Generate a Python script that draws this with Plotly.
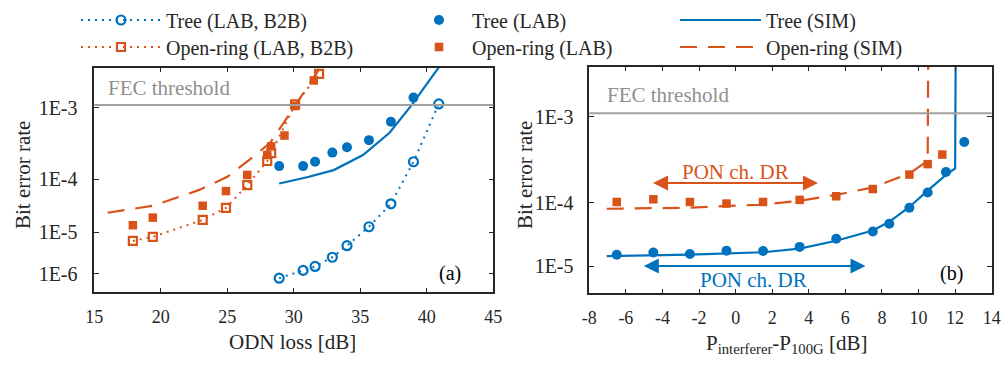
import math
from statistics import NormalDist
import plotly.graph_objects as go

# ---------------- data ----------------
# (a) BER vs ODN loss
odn_tree = [28.9, 30.7, 31.6, 32.9, 34.0, 35.65, 37.3, 39.0, 40.9]
ber_tree_b2b = [7.7e-7, 1.24e-6, 1.57e-6, 2.66e-6, 5.0e-6, 1.3e-5, 3.7e-5, 1.9e-4, 1.11e-3]
ber_tree_lab = [1.63e-4, 1.63e-4, 1.9e-4, 2.6e-4, 3.1e-4, 3.9e-4, 6.8e-4, 1.31e-3, 2.7e-3]
odn_tree_sim = [28.9, 31.0, 33.0, 35.2, 37.2, 38.9, 40.9]
ber_tree_sim = [8.5e-5, 1.08e-4, 1.41e-4, 2.4e-4, 4.9e-4, 1.1e-3, 2.7e-3]

odn_ring_b2b = [17.9, 19.4, 23.15, 24.9, 26.5, 28.0, 28.3, 30.1, 31.9]
ber_ring_b2b = [6.4e-6, 7.9e-6, 1.8e-5, 3.1e-5, 8.0e-5, 1.95e-4, 2.56e-4, 1.1e-3, 2.33e-3]
odn_ring_lab = [17.9, 19.4, 23.15, 24.9, 26.5, 28.0, 28.3, 29.3, 30.1, 31.5]
ber_ring_lab = [1.4e-5, 2.0e-5, 3.4e-5, 6.3e-5, 1.18e-4, 2.4e-4, 3.2e-4, 4.5e-4, 1.05e-3, 2.0e-3]
odn_ring_sim = [16.0, 19.4, 22.9, 25.0, 26.7, 28.2, 29.3, 32.0]
ber_ring_sim = [2.5e-5, 3.4e-5, 6.6e-5, 1.1e-4, 2.06e-4, 3.55e-4, 6.8e-4, 2.7e-3]

# (b) BER vs P_interferer - P_100G
dp_tree_lab = [-6.5, -4.5, -2.5, -0.5, 1.5, 3.5, 5.5, 7.5, 8.4, 9.5, 10.5, 11.5, 12.5]
ber_tree_lab_b = [1.58e-5, 1.72e-5, 1.62e-5, 1.85e-5, 1.83e-5, 2.14e-5, 2.9e-5, 3.77e-5,
                  4.96e-5, 8.5e-5, 1.37e-4, 2.5e-4, 5.5e-4]
dp_ring_lab = [-6.5, -4.5, -2.5, -0.5, 1.5, 3.5, 5.5, 7.5, 9.5, 10.5, 11.3]
ber_ring_lab_b = [1.02e-4, 1.11e-4, 1.02e-4, 9.7e-5, 1.02e-4, 1.09e-4, 1.22e-4, 1.52e-4,
                  2.32e-4, 3.1e-4, 4.0e-4]
dp_tree_sim = [-7.05, -2.5, 1.5, 3.5, 5.5, 7.5, 8.4, 9.5, 10.5, 11.5, 12.0, 12.05]
ber_tree_sim_b = [1.49e-5, 1.58e-5, 1.74e-5, 2.0e-5, 2.7e-5, 3.9e-5, 5.3e-5, 8.7e-5,
                  1.45e-4, 2.3e-4, 2.75e-4, 1e-2]
dp_ring_sim = [-7.05, -2.5, 1.5, 3.5, 5.5, 7.5, 9.5, 10.5, 10.55]
ber_ring_sim_b = [8.2e-5, 8.5e-5, 9.4e-5, 1.06e-4, 1.27e-4, 1.6e-4, 2.38e-4, 3.4e-4, 1e-2]

fec_threshold = 1.08e-3
ber_ticks_a = [1e-3, 1e-4, 1e-5, 1e-6]
ber_ticks_b = [1e-3, 1e-4, 1e-5]
ber_ticklabels_a = ["1E-3", "1E-4", "1E-5", "1E-6"]
ber_ticklabels_b = ["1E-3", "1E-4", "1E-5"]
odn_ticks = [15, 20, 25, 30, 35, 40, 45]
dp_ticks = [-8, -6, -4, -2, 0, 2, 4, 6, 8, 10, 12, 14]
dp_ticklabels = ["-8", "-6", "-4", "-2", "0", "2", "4", "6", "8", "10", "12", "14"]
ber_range_a = [3.1e-7, 2.68e-3]
ber_range_b = [3.05e-6, 2.77e-3]
dr_ring = [-4.6, 4.5]
dr_tree = [-5.1, 7.1]

# ---------------- BER (Q-factor) scale ----------------
_nd = NormalDist()


def qs(ber):
    return -math.log10(-_nd.inv_cdf(ber))


def qsl(bers):
    return [qs(b) for b in bers]


BLUE = "#0072BD"
ORANGE = "#D95319"
GRAY = "#a0a0a0"
TXT = "#262626"
FONT = "Liberation Serif, Times New Roman, serif"

fig = go.Figure()

DOT = "2px,5px"
DASH = "17px,11px"

# ---- panel (a)
fig.add_trace(go.Scatter(x=odn_tree, y=qsl(ber_tree_b2b), mode="lines+markers",
                         name="Tree (LAB, B2B)", legend="legend",
                         line=dict(color=BLUE, width=2, dash=DOT),
                         marker=dict(symbol="circle-open", size=9, color=BLUE, line=dict(width=2.2)),
                         cliponaxis=False, xaxis="x", yaxis="y"))
fig.add_trace(go.Scatter(x=odn_ring_b2b, y=qsl(ber_ring_b2b), mode="lines+markers",
                         name="Open-ring (LAB, B2B)", legend="legend4",
                         line=dict(color=ORANGE, width=2, dash=DOT),
                         marker=dict(symbol="square-open", size=8, color=ORANGE, line=dict(width=2.2)),
                         cliponaxis=False, xaxis="x", yaxis="y"))
fig.add_trace(go.Scatter(x=odn_tree, y=qsl(ber_tree_lab), mode="markers",
                         name="Tree (LAB)", legend="legend2",
                         marker=dict(symbol="circle", size=10, color=BLUE),
                         cliponaxis=False, xaxis="x", yaxis="y"))
fig.add_trace(go.Scatter(x=odn_ring_lab, y=qsl(ber_ring_lab), mode="markers",
                         name="Open-ring (LAB)", legend="legend5",
                         marker=dict(symbol="square", size=8.5, color=ORANGE),
                         cliponaxis=False, xaxis="x", yaxis="y"))
fig.add_trace(go.Scatter(x=odn_tree_sim, y=qsl(ber_tree_sim), mode="lines",
                         name="Tree (SIM)", legend="legend3",
                         line=dict(color=BLUE, width=2.2), xaxis="x", yaxis="y"))
fig.add_trace(go.Scatter(x=odn_ring_sim, y=qsl(ber_ring_sim), mode="lines",
                         name="Open-ring (SIM)", legend="legend6",
                         line=dict(color=ORANGE, width=2.2, dash=DASH), xaxis="x", yaxis="y"))

# ---- panel (b)
fig.add_trace(go.Scatter(x=dp_tree_sim, y=qsl(ber_tree_sim_b), mode="lines", showlegend=False,
                         line=dict(color=BLUE, width=2.2), xaxis="x2", yaxis="y2"))
fig.add_trace(go.Scatter(x=dp_ring_sim, y=qsl(ber_ring_sim_b), mode="lines", showlegend=False,
                         line=dict(color=ORANGE, width=2.2, dash=DASH), xaxis="x2", yaxis="y2"))
fig.add_trace(go.Scatter(x=dp_tree_lab, y=qsl(ber_tree_lab_b), mode="markers", showlegend=False,
                         marker=dict(symbol="circle", size=10, color=BLUE),
                         cliponaxis=False, xaxis="x2", yaxis="y2"))
fig.add_trace(go.Scatter(x=dp_ring_lab, y=qsl(ber_ring_lab_b), mode="markers", showlegend=False,
                         marker=dict(symbol="square", size=8.5, color=ORANGE),
                         cliponaxis=False, xaxis="x2", yaxis="y2"))

W, H = 1003, 366


def px_x(p):
    return p / W


def px_y(p):
    return 1 - p / H


axis_common = dict(showline=True, linecolor=TXT, linewidth=1.5, mirror="ticks",
                   ticks="inside", ticklen=5, tickwidth=1.3, tickcolor=TXT,
                   showgrid=False, zeroline=False, automargin=False)
xfont = dict(family=FONT, size=18, color=TXT)
yfont = dict(family=FONT, size=20, color=TXT)


def leg(xp, yp, w):
    return dict(x=px_x(xp), y=px_y(yp), xanchor="left", yanchor="middle", itemwidth=w,
                bgcolor="rgba(0,0,0,0)", font=dict(family=FONT, size=20, color=TXT))


fig.update_layout(
    width=W, height=H, margin=dict(l=0, r=0, t=0, b=0, autoexpand=False),
    paper_bgcolor="white", plot_bgcolor="white",
    font=dict(family=FONT, color=TXT),
    xaxis=dict(domain=[px_x(94.3), px_x(493.3)], range=[15, 45], tickvals=odn_ticks,
               anchor="y", tickfont=xfont, ticklabelstandoff=7, **axis_common),
    yaxis=dict(domain=[px_y(292.3), px_y(67.7)], range=[qs(ber_range_a[0]), qs(ber_range_a[1])],
               tickvals=qsl(ber_ticks_a), ticktext=ber_ticklabels_a, anchor="x",
               ticklabelstandoff=11, tickfont=yfont, **axis_common),
    xaxis2=dict(domain=[px_x(589.3), px_x(991.7)], range=[-8, 14], tickvals=dp_ticks,
                ticktext=dp_ticklabels, anchor="y2", tickfont=xfont, ticklabelstandoff=7,
                **axis_common),
    yaxis2=dict(domain=[px_y(293.3), px_y(66.7)], range=[qs(ber_range_b[0]), qs(ber_range_b[1])],
                tickvals=qsl(ber_ticks_b), ticktext=ber_ticklabels_b, anchor="x2",
                ticklabelstandoff=10, tickfont=yfont, **axis_common),
    legend=leg(76, 20, 80),
    legend2=leg(406, 20, 56),
    legend3=leg(675, 20, 81),
    legend4=leg(76, 47, 80),
    legend5=leg(406, 47, 56),
    legend6=leg(675, 47, 81),
)

# FEC threshold lines
for xr, yr in (("x domain", "y"), ("x2 domain", "y2")):
    fig.add_shape(type="line", xref=xr, yref=yr, x0=0, x1=1, y0=qs(fec_threshold), y1=qs(fec_threshold),
                  line=dict(color=GRAY, width=2))

ann = []
ann.append(dict(text="FEC threshold", xref="paper", yref="paper", x=px_x(106), y=px_y(88),
                xanchor="left", yanchor="middle", showarrow=False,
                font=dict(family=FONT, size=21, color="#909090")))
ann.append(dict(text="FEC threshold", xref="paper", yref="paper", x=px_x(605), y=px_y(95),
                xanchor="left", yanchor="middle", showarrow=False,
                font=dict(family=FONT, size=21, color="#909090")))
ann.append(dict(text="(a)", xref="paper", yref="paper", x=px_x(450), y=px_y(273),
                xanchor="center", yanchor="middle", showarrow=False,
                font=dict(family=FONT, size=20, color="black")))
ann.append(dict(text="(b)", xref="paper", yref="paper", x=px_x(951), y=px_y(273),
                xanchor="center", yanchor="middle", showarrow=False,
                font=dict(family=FONT, size=20, color="black")))
# axis titles
ann.append(dict(text="ODN loss [dB]", xref="paper", yref="paper", x=px_x(292), y=px_y(342),
                xanchor="center", yanchor="middle", showarrow=False,
                font=dict(family=FONT, size=21, color=TXT)))
ann.append(dict(text="P<sub>interferer</sub>-P<sub>100G</sub> [dB]", xref="paper", yref="paper",
                x=px_x(786), y=px_y(344), xanchor="center", yanchor="middle", showarrow=False,
                font=dict(family=FONT, size=21, color=TXT)))
ann.append(dict(text="Bit error rate", xref="paper", yref="paper", x=px_x(23), y=px_y(175),
                xanchor="center", yanchor="middle", showarrow=False, textangle=-90,
                font=dict(family=FONT, size=21, color=TXT)))
ann.append(dict(text="Bit error rate", xref="paper", yref="paper", x=px_x(525), y=px_y(175),
                xanchor="center", yanchor="middle", showarrow=False, textangle=-90,
                font=dict(family=FONT, size=21, color=TXT)))

# dynamic-range arrows
y_ring_arrow = qs(1.82e-4)
y_tree_arrow = qs(1.0e-5)
ann.append(dict(x=dr_ring[1], y=y_ring_arrow, ax=dr_ring[0], ay=y_ring_arrow,
                xref="x2", yref="y2", axref="x2", ayref="y2", text="", showarrow=True,
                arrowhead=2, arrowside="end+start", arrowsize=1.5, arrowwidth=2, arrowcolor=ORANGE))
ann.append(dict(x=dr_tree[1], y=y_tree_arrow, ax=dr_tree[0], ay=y_tree_arrow,
                xref="x2", yref="y2", axref="x2", ayref="y2", text="", showarrow=True,
                arrowhead=2, arrowside="end+start", arrowsize=1.5, arrowwidth=2, arrowcolor=BLUE))
ann.append(dict(text="PON ch. DR", xref="x2", yref="y2", x=0.0, y=qs(2.5e-4),
                showarrow=False, xanchor="center", yanchor="middle",
                font=dict(family=FONT, size=21, color=ORANGE)))
ann.append(dict(text="PON ch. DR", xref="x2", yref="y2", x=1.0, y=qs(5.5e-6),
                showarrow=False, xanchor="center", yanchor="middle",
                font=dict(family=FONT, size=21, color=BLUE)))
fig.update_layout(annotations=ann)

fig.write_html("out.html", config={"displayModeBar": False},
               post_script="document.body.style.margin='0';document.body.style.overflow='hidden';")
